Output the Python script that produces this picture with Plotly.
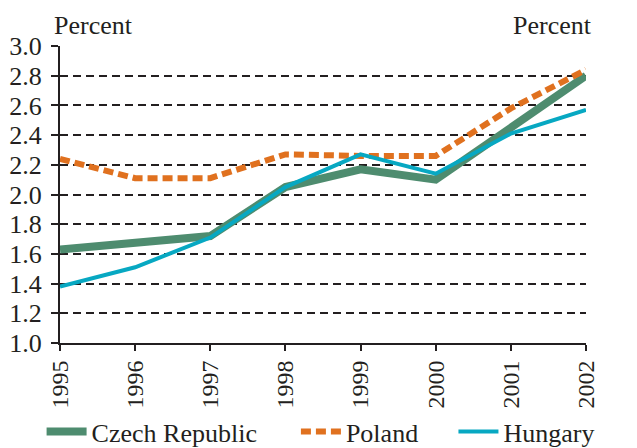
import plotly.graph_objects as go

years = [1995, 1996, 1997, 1998, 1999, 2000, 2001, 2002]
czech = [1.63, 1.68, 1.72, 2.05, 2.17, 2.10, 2.45, 2.80]
poland = [2.24, 2.11, 2.11, 2.27, 2.26, 2.26, 2.58, 2.84]
hungary = [1.38, 1.51, 1.71, 2.05, 2.27, 2.14, 2.41, 2.57]
y_ticks = [1.0, 1.2, 1.4, 1.6, 1.8, 2.0, 2.2, 2.4, 2.6, 2.8, 3.0]
y_labels = [f"{v:.1f}" for v in y_ticks]

FONT = "Liberation Serif"
INK = "#231f20"

fig = go.Figure()
fig.add_trace(go.Scatter(x=years, y=czech, name="Czech Republic", mode="lines",
                         line=dict(color="#4e8c6f", width=8), legend="legend"))
fig.add_trace(go.Scatter(x=years, y=poland, name="Poland", mode="lines",
                         line=dict(color="#e0711f", width=6, dash="10px,5px"),
                         legend="legend2"))
fig.add_trace(go.Scatter(x=years, y=hungary, name="Hungary", mode="lines",
                         line=dict(color="#07a8c2", width=4), legend="legend3"))

xfont = dict(family=FONT, size=24, color=INK)
yfont = dict(family=FONT, size=26, color=INK)
legfont = dict(family=FONT, size=26, color=INK)


def leg(x):
    return dict(orientation="h", x=x, xanchor="left", y=-0.298, yanchor="middle",
                font=legfont, bgcolor="rgba(0,0,0,0)", itemwidth=40)


fig.update_layout(
    width=629, height=440,
    margin=dict(l=52, r=51, t=38, b=105, autoexpand=False),
    paper_bgcolor="white", plot_bgcolor="white",
    font=dict(family=FONT, size=24, color=INK),
    showlegend=True,
    legend=leg(-0.035),
    legend2=leg(0.4485),
    legend3=leg(0.748),
    xaxis=dict(range=[1995, 2002], tickmode="array", tickvals=years,
               ticktext=[str(y) for y in years], tickangle=-90,
               showgrid=False, zeroline=False, showline=True, linecolor=INK,
               linewidth=2, ticks="outside", ticklen=6, tickwidth=2, tickcolor=INK,
               tickfont=xfont),
    yaxis=dict(range=[1.0, 3.0], tickmode="array", tickvals=y_ticks, ticktext=y_labels,
               showgrid=True, gridcolor=INK, gridwidth=2, griddash="8px,5px",
               zeroline=False, showline=True, linecolor=INK, linewidth=2,
               ticks="outside", ticklen=7, tickwidth=2, tickcolor=INK,
               tickfont=yfont, ticklabelstandoff=4),
    yaxis2=dict(range=[1.0, 3.0], tickmode="array", tickvals=y_ticks, ticktext=y_labels,
                overlaying="y", side="right", showgrid=False, zeroline=False,
                showline=True, linecolor=INK, linewidth=2,
                ticks="outside", ticklen=7, tickwidth=2, tickcolor=INK,
                tickfont=yfont, ticklabelstandoff=4),
    annotations=[
        dict(text="Percent", xref="paper", yref="paper", x=0, y=1.0, xanchor="left",
             yanchor="bottom", yshift=4, xshift=-8, showarrow=False,
             font=dict(family=FONT, size=26, color=INK)),
        dict(text="Percent", xref="paper", yref="paper", x=1.0, y=1.0, xanchor="right",
             yanchor="bottom", yshift=4, xshift=8, showarrow=False,
             font=dict(family=FONT, size=26, color=INK)),
    ],
)

fig.write_html("out.html")
